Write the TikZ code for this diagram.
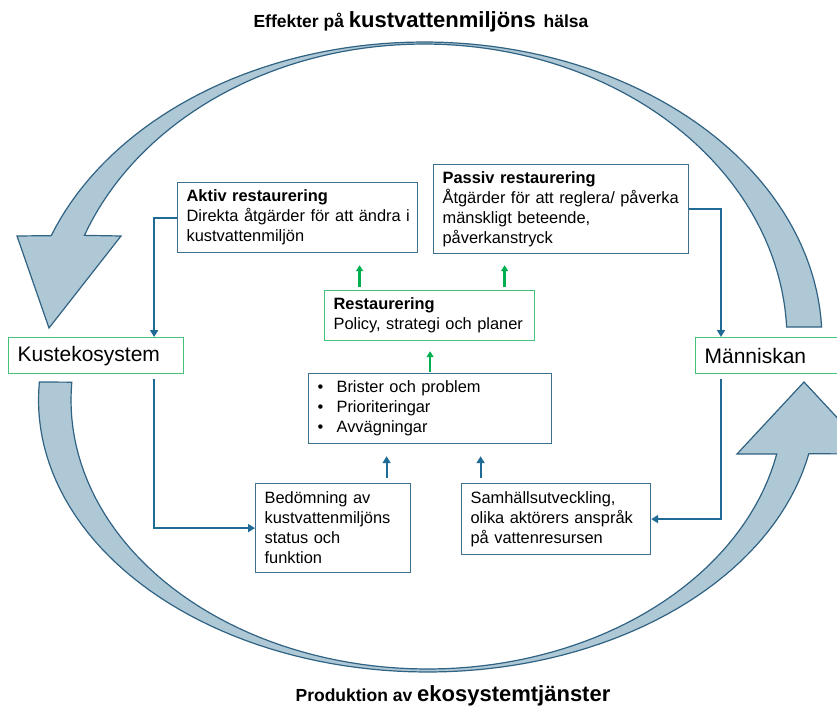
\documentclass[tikz,border=0pt]{standalone}
\usepackage{fontspec}
\setmainfont{Liberation Sans}
\usetikzlibrary{positioning,arrows.meta}
\definecolor{ringfill}{HTML}{AFC8D5}
\definecolor{ringdraw}{HTML}{2F6283}
\definecolor{linkblue}{HTML}{1F6B95}
\definecolor{boxblue}{HTML}{3D6F8E}
\definecolor{boxgreen}{HTML}{45C27A}
\definecolor{arrowgreen}{HTML}{00B050}
\tikzstyle{bluebox} = [rectangle, draw=boxblue, line width=1.2pt, fill=white, align=left, inner xsep=9pt, inner ysep=0pt, font=\fontsize{16.4}{20}\selectfont]
\tikzstyle{greenbox} = [bluebox, draw=boxgreen]
\tikzstyle{bigbox} = [greenbox, font=\fontsize{21}{24}\selectfont]
\tikzstyle{band} = [fill=ringfill, draw=ringdraw, line width=1.2pt]
\tikzstyle{link} = [draw=linkblue, line width=1.8pt, -{Triangle[length=7pt,width=8pt]}]
\tikzstyle{greenarrow} = [draw=arrowgreen, line width=2.5pt, -{Triangle[length=6pt,width=7pt]}]
\tikzstyle{rubrik} = [font=\bfseries\fontsize{17.5}{21}\selectfont, inner sep=0pt]

\begin{document}
\begin{tikzpicture}[x=1pt, y=-1pt]
\useasboundingbox (0,0) rectangle (837,706);
\draw[band] plot[domain=-2.5:-159.5, samples=90, variable=\t] ({424+398*cos(\t)}, {340+298*sin(\t)}) -- (17,236) -- (49,328) -- (121,236) -- plot[domain=-159.3:-2.5, samples=90, variable=\t] ({424+363*cos(\t)}, {340+296*sin(\t)}) -- cycle;
\draw[band] plot[domain=183.8:11.4, samples=90, variable=\t] ({427.5+389*cos(\t)}, {400+272*sin(\t)}) -- (871,454) -- (804,382) -- (737,454) -- plot[domain=11.6:183.8, samples=90, variable=\t] ({427.5+356.5*cos(\t)}, {400+269*sin(\t)}) -- cycle;
\node[rubrik, anchor=base] (effekter) at (421,28) {Effekter på {\fontsize{22}{24}\selectfont kustvattenmiljöns}\, hälsa};
\node[rubrik, anchor=base] (produktion) at (453,701) {Produktion av {\fontsize{22}{24}\selectfont ekosystemtjänster}};
\node[bigbox, anchor=north west, text width=157pt, minimum height=36pt] (kust) at (8,337) {Kustekosystem};
\node[bigbox, anchor=north west, text width=132pt, minimum height=36pt] (manniska) at (695,337) {Människan};
\node[bluebox, anchor=north west, text width=222pt, minimum height=70pt] (aktiv) at (177,182) {\textbf{Aktiv restaurering}\\\mbox{Direkta åtgärder för att ändra i}\\kustvattenmiljön};
\node[bluebox, anchor=north west, text width=237pt, minimum height=89pt] (passiv) at (433,164) {\textbf{Passiv restaurering}\\\mbox{Åtgärder för att reglera/ påverka}\\mänskligt beteende,\\påverkanstryck};
\node[greenbox, anchor=north west, text width=192pt, minimum height=50pt] (restaurering) at (324,290) {\textbf{Restaurering}\\\mbox{Policy, strategi och planer}};
\node[bluebox, anchor=north west, text width=225pt, minimum height=70pt] (brister) at (308,373) {\makebox[19pt][l]{\textbullet}Brister och problem\\\makebox[19pt][l]{\textbullet}Prioriteringar\\\makebox[19pt][l]{\textbullet}Avvägningar};
\node[bluebox, anchor=north west, text width=137pt, minimum height=89pt] (bedomning) at (255,483) {Bedömning av\\\mbox{kustvattenmiljöns}\\status och\\funktion};
\node[bluebox, anchor=north west, text width=171pt, minimum height=71pt] (samhalle) at (461,483) {Samhällsutveckling,\\\mbox{olika aktörers anspråk}\\på vattenresursen};
\draw[link] (aktiv.west) -| ([xshift=58pt]kust.north);
\draw[link] (passiv.east) -| ([xshift=26pt]manniska.north west);
\draw[link] ([xshift=58pt,yshift=-5pt]kust.south) |- (bedomning.west);
\draw[link] ([xshift=26pt,yshift=-5pt]manniska.south west) |- (samhalle.east);
\draw[greenarrow, shorten <=3pt, shorten >=12pt] ([xshift=-70pt]restaurering.north) -- ([xshift=-70pt]restaurering.north |- aktiv.south);
\draw[greenarrow, shorten <=3pt, shorten >=11pt] ([xshift=75pt]restaurering.north) -- ([xshift=75pt]restaurering.north |- passiv.south);
\draw[greenarrow, shorten <=1pt, shorten >=10pt] (brister.north) -- (restaurering.south -| brister.north);
\draw[link, shorten <=5pt, shorten >=12pt] ([xshift=53.5pt]bedomning.north) -- ([xshift=53.5pt]bedomning.north |- brister.south);
\draw[link, shorten <=5pt, shorten >=12pt] ([xshift=-75.5pt]samhalle.north) -- ([xshift=-75.5pt]samhalle.north |- brister.south);
\end{tikzpicture}
\end{document}
